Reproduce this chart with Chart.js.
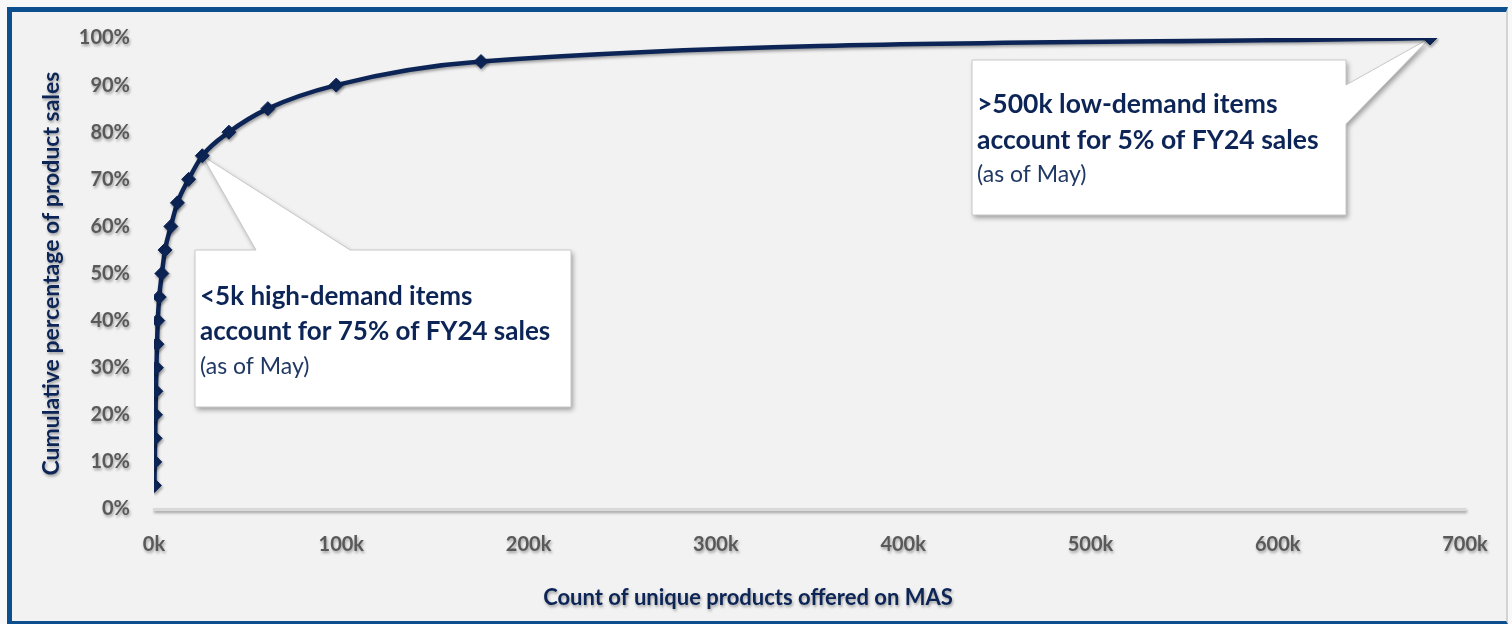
<!DOCTYPE html>
<html>
<head>
<meta charset="utf-8">
<script src="https://cdn.jsdelivr.net/npm/chart.js@4"></script>
<style>
  html, body { margin: 0; padding: 0; background: #f8f8f8; overflow: hidden; }
  .moldura {
    position: absolute; left: 7px; top: 7px; width: 1501px; height: 617px;
    box-sizing: border-box; background: #f2f2f2;
    border-left: 5px solid #0b4f8f; border-top: 5px solid #0b4f8f;
    border-bottom: 3px solid #0b4f8f; border-right: 2px solid #d3d3d3;
  }
  .grafico-estatico { position: absolute; left: 0; top: 0; width: 1512px; height: 624px; }
</style>
</head>
<body>
<div class="moldura"></div>
<div class="grafico-estatico"><canvas class="Mychart" width="1512" height="624"></canvas></div>
<script>
// produtos em milhares (k), percentual acumulado de vendas
const produtos = [0.2, 0.4, 0.6, 0.8, 1.0, 1.3, 1.6, 2.0, 2.8, 4.2, 5.9, 9.0, 12.5, 18.5, 25.8, 40.0, 60.8, 97.3, 174.6, 681.3]
const percentual = [5, 10, 15, 20, 25, 30, 35, 40, 45, 50, 55, 60, 65, 70, 75, 80, 85, 90, 95, 100]
const ticksX = [0, 100, 200, 300, 400, 500, 600, 700]
const ticksY = [0, 10, 20, 30, 40, 50, 60, 70, 80, 90, 100]

const tituloX = 'Count of unique products offered on MAS'
const tituloY = 'Cumulative percentage of product sales'

const caixa1 = ['<5k high-demand items', 'account for 75% of FY24 sales', '(as of May)']
const caixa2 = ['>500k low-demand items', 'account for 5% of FY24 sales', '(as of May)']

const azul = '#0c2556'
const cinza = '#595959'
const fonte = 'Lato'

const pontos = produtos.map((p, i) => ({ x: p, y: percentual[i] }))

/* sombra leve em tudo, como no Excel */
const sombra = {
    id: 'sombra',
    beforeDraw(chart) {
        const ctx = chart.ctx
        ctx.shadowColor = 'rgba(0,0,0,0.35)'
        ctx.shadowBlur = 3
        ctx.shadowOffsetX = 1
        ctx.shadowOffsetY = 2
    },
    afterDraw(chart) {
        const ctx = chart.ctx
        // titulo do eixo x, um pouco deslocado para a esquerda como no original
        ctx.save()
        ctx.fillStyle = azul
        ctx.font = 'bold 22px ' + fonte
        ctx.textAlign = 'center'
        ctx.textBaseline = 'middle'
        ctx.fillText(tituloX, 748, 598)
        ctx.restore()
        ctx.shadowColor = 'transparent'
        ctx.shadowBlur = 0
        ctx.shadowOffsetX = 0
        ctx.shadowOffsetY = 0
    }
}

function desenhaCaixa(ctx, box, cunha, linhas, y, tam) {
    ctx.save()
    ctx.shadowColor = 'rgba(0,0,0,0.35)'
    ctx.shadowBlur = 5
    ctx.shadowOffsetX = 2
    ctx.shadowOffsetY = 3
    ctx.fillStyle = '#ffffff'
    ctx.strokeStyle = '#c8c8c8'
    ctx.lineWidth = 1
    ctx.beginPath()
    ctx.moveTo(box.l, box.t)
    if (cunha.lado === 'topo') {
        ctx.lineTo(cunha.a, box.t)
        ctx.lineTo(cunha.px, cunha.py)
        ctx.lineTo(cunha.b, box.t)
    }
    ctx.lineTo(box.r, box.t)
    if (cunha.lado === 'direita') {
        ctx.lineTo(box.r, cunha.a)
        ctx.lineTo(cunha.px, cunha.py)
        ctx.lineTo(box.r, cunha.b)
    }
    ctx.lineTo(box.r, box.b)
    ctx.lineTo(box.l, box.b)
    ctx.closePath()
    ctx.fill()
    ctx.shadowColor = 'transparent'
    ctx.stroke()

    ctx.fillStyle = '#0c2556'
    ctx.textBaseline = 'alphabetic'
    ctx.textAlign = 'left'
    ctx.font = 'bold ' + tam + 'px ' + fonte
    ctx.fillText(linhas[0], box.l + 5, y[0])
    ctx.fillText(linhas[1], box.l + 5, y[1])
    ctx.fillStyle = '#1f3864'
    ctx.font = '23px ' + fonte
    ctx.fillText(linhas[2], box.l + 5, y[2])
    ctx.restore()
}

const chamadas = {
    id: 'chamadas',
    beforeDatasetsDraw(chart) {
        const ctx = chart.ctx
        const sx = chart.scales.x
        const sy = chart.scales.y
        const p1 = pontos[14]
        const p2 = pontos[pontos.length - 1]
        desenhaCaixa(ctx, { l: 195, t: 250, r: 571, b: 407 },
            { lado: 'topo', a: 256, b: 350, px: sx.getPixelForValue(p1.x), py: sy.getPixelForValue(p1.y) },
            caixa1, [305, 340, 374], 26)
        desenhaCaixa(ctx, { l: 972, t: 60, r: 1346, b: 215 },
            { lado: 'direita', a: 85, b: 124, px: sx.getPixelForValue(p2.x), py: sy.getPixelForValue(p2.y) },
            caixa2, [113, 149, 182], 26.5)
    }
}

const data = {
    datasets: [{
        label: 'Cumulative %',
        data: pontos,
        borderColor: azul,
        backgroundColor: azul,
        borderWidth: 4.5,
        pointStyle: 'rectRot',
        pointRadius: 7,
        pointBorderWidth: 1,
        cubicInterpolationMode: 'monotone'
    }]
}

const config = {
    type: 'line',
    data: data,
    options: {
        responsive: false,
        animation: false,
        layout: { padding: { left: 38, right: 47, top: 38, bottom: 13 } },
        plugins: { legend: { display: false }, tooltip: { enabled: false } },
        scales: {
            x: {
                type: 'linear',
                min: 0, max: 700,
                afterFit: s => { s.height = 102 },
                afterBuildTicks: s => { s.ticks = ticksX.map(v => ({ value: v })) },
                grid: { display: false, drawTicks: false },
                border: { display: true, color: '#d9d9d9', width: 3 },
                ticks: {
                    padding: 24,
                    color: cinza,
                    font: { family: fonte, size: 20, weight: 'bold' },
                    callback: v => v + 'k'
                },
                title: { display: false }
            },
            y: {
                min: 0, max: 100,
                afterFit: s => { s.width = 116 },
                afterBuildTicks: s => { s.ticks = ticksY.map(v => ({ value: v })) },
                grid: { display: false, drawTicks: false },
                border: { display: false },
                ticks: {
                    padding: 24,
                    color: cinza,
                    font: { family: fonte, size: 20, weight: 'bold' },
                    callback: v => v + '%'
                },
                title: {
                    display: true, text: tituloY, color: azul,
                    padding: { top: 0, bottom: 0 },
                    font: { family: fonte, size: 23, weight: 'bold' }
                }
            }
        }
    },
    plugins: [sombra, chamadas]
}

let graf = document.querySelector('.Mychart').getContext('2d')
let myChart = new Chart(graf, config)
</script>
</body>
</html>
